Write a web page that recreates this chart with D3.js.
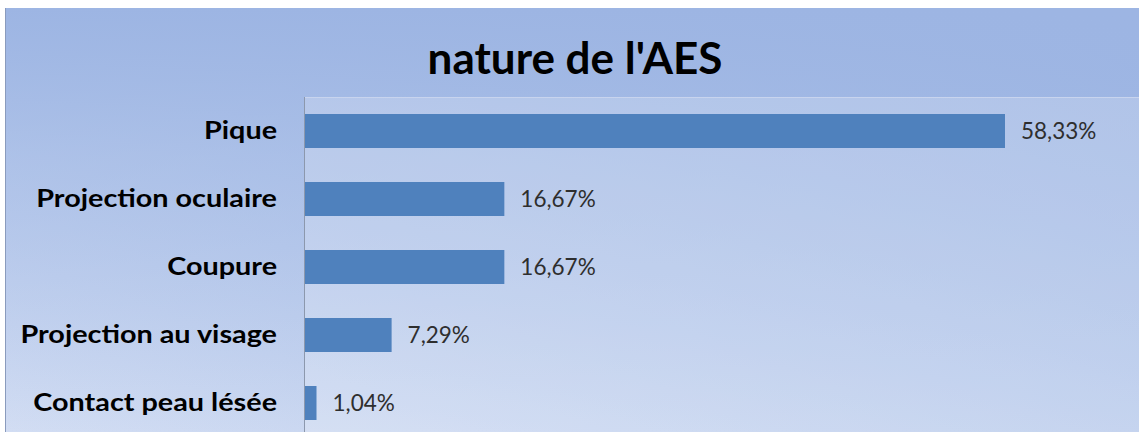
<!DOCTYPE html>
<html>
<head>
<meta charset="utf-8">
<script src="https://cdn.jsdelivr.net/npm/d3@7"></script>
<style>
  html, body { margin: 0; padding: 0; background: #fff; }
  svg { display: block; }
</style>
</head>
<body>
<svg id="chart" width="1139" height="432"></svg>
<script>
const categories = ["Pique", "Projection oculaire", "Coupure", "Projection au visage", "Contact peau lésée"];
const values = [58.33, 16.67, 16.67, 7.29, 1.04];
const valueLabels = ["58,33%", "16,67%", "16,67%", "7,29%", "1,04%"];
const title = "nature de l'AES";

const width = 1139, height = 432;
const svg = d3.select("#chart");

const defs = svg.append("defs");
const bg = defs.append("linearGradient").attr("id", "bg")
	.attr("x1", "0%").attr("y1", "100%").attr("x2", "100%").attr("y2", "0%");
bg.append("stop").attr("offset", "0%").attr("stop-color", "#d2ddf3");
bg.append("stop").attr("offset", "55%").attr("stop-color", "#b5c8eb");
bg.append("stop").attr("offset", "100%").attr("stop-color", "#9bb4e3");

const bgTop = defs.append("linearGradient").attr("id", "bgTop")
	.attr("x1", "0%").attr("y1", "0%").attr("x2", "0%").attr("y2", "100%");
bgTop.append("stop").attr("offset", "0%").attr("stop-color", "#9db5e3").attr("stop-opacity", 1);
bgTop.append("stop").attr("offset", "35%").attr("stop-color", "#9db5e3").attr("stop-opacity", 0.55);
bgTop.append("stop").attr("offset", "100%").attr("stop-color", "#9db5e3").attr("stop-opacity", 0);

// chart frame
svg.append("rect").attr("x", 5).attr("y", 8).attr("width", width - 5).attr("height", height - 8)
	.attr("fill", "url(#bg)");
svg.append("rect").attr("x", 5).attr("y", 8).attr("width", width - 5).attr("height", height - 8)
	.attr("fill", "url(#bgTop)");
svg.append("line").attr("x1", 5.5).attr("x2", 5.5).attr("y1", 8).attr("y2", height)
	.attr("stroke", "#8a9bbd").attr("stroke-width", 1);

const margin = {top: 97, left: 304};
const band = 68;

const x = d3.scaleLinear().domain([0, 58.33]).range([margin.left, 1005]);
const y = d3.scaleBand().domain(categories)
	.range([margin.top, margin.top + band * categories.length])
	.paddingInner(0.5).paddingOuter(0.25);

// plot area
svg.append("rect").attr("x", margin.left).attr("y", margin.top)
	.attr("width", width - margin.left).attr("height", height - margin.top)
	.attr("fill", "#ffffff").attr("fill-opacity", 0.2);
svg.append("line").attr("x1", margin.left).attr("x2", width).attr("y1", margin.top + 0.5).attr("y2", margin.top + 0.5)
	.attr("stroke", "#c8d4ee").attr("stroke-width", 1);

// title
svg.append("text").attr("x", 575).attr("y", 74)
	.attr("text-anchor", "middle")
	.attr("font-family", "Lato, 'Open Sans', sans-serif")
	.attr("font-weight", "bold").attr("font-size", 44)
	.attr("fill", "#000")
	.text(title);

// bars
svg.append("g").selectAll("rect").data(values).join("rect")
	.attr("x", x(0))
	.attr("y", (d, i) => y(categories[i]))
	.attr("width", d => x(d) - x(0))
	.attr("height", y.bandwidth())
	.attr("fill", "#4f81bd");

// y axis - labels stretched a bit to match the wider original face
const stretch = 1.2;
const yAxis = d3.axisLeft(y).tickSize(0).tickPadding(27);
const gy = svg.append("g").attr("transform", `translate(${margin.left},0)`).call(yAxis);
gy.select(".domain").attr("stroke", "#8c98ad").attr("d", `M0.5,${margin.top}V${height}`);
gy.selectAll("text")
	.attr("x", -27 / stretch)
	.attr("transform", `scale(${stretch},1)`)
	.attr("font-family", "Lato, 'Open Sans', sans-serif")
	.attr("font-weight", "bold").attr("font-size", 24)
	.attr("fill", "#000");

// value labels
svg.append("g").selectAll("text").data(values).join("text")
	.attr("x", d => x(d) + 16)
	.attr("y", (d, i) => y(categories[i]) + y.bandwidth() / 2)
	.attr("dy", "0.36em")
	.attr("font-family", "Lato, 'Open Sans', sans-serif")
	.attr("font-size", 22.5)
	.attr("fill", "#2e2e2e")
	.text((d, i) => valueLabels[i]);
</script>
</body>
</html>
